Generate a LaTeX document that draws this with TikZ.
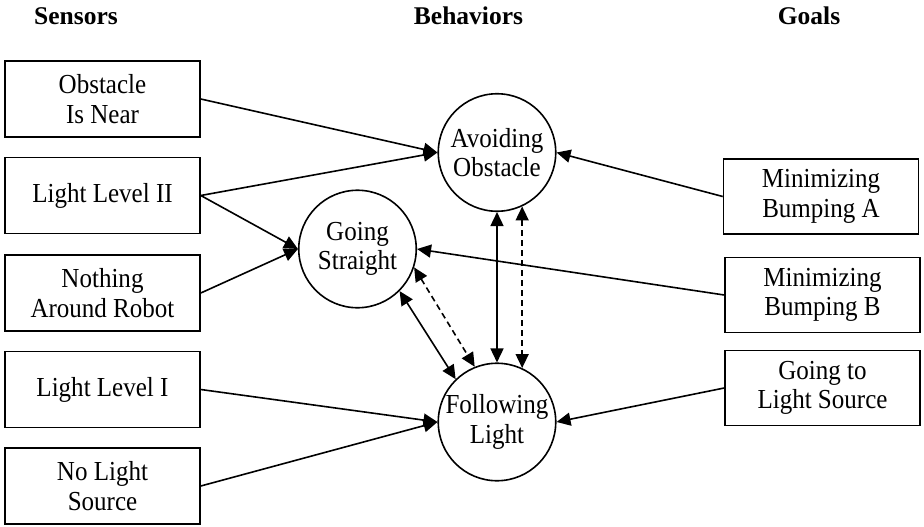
\documentclass[tikz,border=0pt]{standalone}
\usepackage{fontspec}
\setmainfont{Liberation Serif}
\newfontfamily\labelfont{Liberation Serif}[FakeStretch=0.91]
\usetikzlibrary{arrows.meta}

\begin{document}
\begin{tikzpicture}[x=1pt,y=-1pt,
  every node/.style={font=\labelfont\fontsize{27.5}{29.5}\selectfont, align=center, inner sep=0pt},
  box/.style={draw, line width=1.6pt, minimum width=195pt, minimum height=76pt},
  goalbox/.style={box, minimum width=195pt, minimum height=75pt},
  behavior/.style={draw, circle, line width=1.6pt, minimum size=117.5pt},
  heading/.style={font=\bfseries\fontsize{25.5}{28}\selectfont, anchor=base},
  link/.style={line width=1.6pt, -{Triangle[length=14pt,width=13pt]}},
  mutual/.style={line width=1.6pt, {Triangle[length=14pt,width=13pt]}-{Triangle[length=14pt,width=13pt]}},
  weak/.style={dash pattern=on 6pt off 4pt},
]
% canvas
\path[fill=white, use as bounding box] (0,0) rectangle (924,527);

% column headings
\node[heading] (hsens) at (76,25) {Sensors};
\node[heading] (hbeh)  at (468.5,25) {Behaviors};
\node[heading] (hgoal) at (809,25) {Goals};

% sensors
\node[box] (obsnear) at (102.5,99)    {Obstacle\\Is Near};
\node[box] (light2)  at (102.5,195.5) {Light Level II};
\node[box] (nothing) at (102.5,293)   {Nothing\\Around Robot};
\node[box] (light1)  at (102.5,389.5) {Light Level I};
\node[box] (nolight) at (102.5,486)   {No Light\\Source};

% behaviors
\node[behavior] (avoid)    at (497,152.5) {Avoiding\\Obstacle};
\node[behavior] (straight) at (357.5,249) {Going\\Straight};
\node[behavior] (follow)   at (497,422)   {Following\\Light};

% goals
\node[goalbox] (bumpa)   at (821,196.5) {Minimizing\\Bumping A};
\node[goalbox] (bumpb)   at (822.5,295) {Minimizing\\Bumping B};
\node[goalbox] (golight) at (822.5,388) {Going to\\Light Source};

% sensor inputs
\draw[link] (obsnear.east) -- (avoid.west);
\draw[link] (light2.east) -- (avoid.west);
\draw[link] (light2.east) -- (straight.west);
\draw[link] (nothing.east) -- (straight.west);
\draw[link] (light1.east) -- (follow.west);
\draw[link] (nolight.east) -- (follow.west);

% goal inputs
\draw[link] (bumpa.west) -- (avoid.east);
\draw[link] (bumpb.west) -- (straight.east);
\draw[link] (golight.west) -- (follow.east);

% behavior interactions
\draw[mutual] (avoid.south) -- (follow.north);
\draw[mutual, weak] (avoid.-65) -- (follow.65);
\draw[mutual] (straight.-45) -- (follow.134);
\draw[mutual, weak] (straight.-18) -- (follow.112);
\end{tikzpicture}
\end{document}
